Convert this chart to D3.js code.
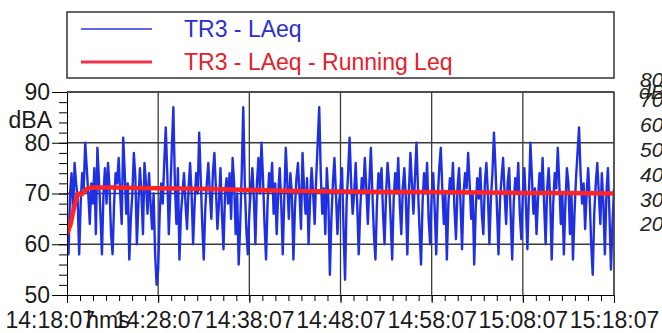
<!DOCTYPE html>
<html>
<head>
<meta charset="utf-8">
<script src="https://cdn.jsdelivr.net/npm/d3@7"></script>
<style>
  body { margin: 0; background: #fff; }
  svg { display: block; }
  text { font-family: "Liberation Sans", Arial, sans-serif; }
</style>
</head>
<body>
<div id="chart"></div>
<script>
// x tick labels, one every 10 minutes
const xTickLabels = ['14:18:07', '14:28:07', '14:38:07', '14:48:07', '14:58:07', '15:08:07', '15:18:07'];
const xTickMinutes = [0, 10, 20, 30, 40, 50, 60];
const yTicks = [50, 60, 70, 80, 90];
const rightTicks = [80, 70, 60, 50, 40, 30, 20];
const legendNames = ['TR3 - LAeq', 'TR3 - LAeq - Running Leq'];

// TR3 - LAeq, one reading every 10 s from 14:18:07
const stepMinutes = 10 / 60;
const laeq = [
  62, 58, 70, 74, 66, 76, 72, 69, 58, 68, 74, 71, 80, 75, 70, 64, 72, 68, 75, 62,
  79, 73, 66, 58, 70, 75, 68, 76, 71, 62, 58, 68, 74, 72, 77, 70, 64, 81, 74, 66,
  72, 57, 65, 70, 78, 73, 60, 68, 75, 70, 62, 76, 72, 66, 74, 68, 63, 70, 58, 52,
  55, 66, 72, 68, 76, 83, 74, 62, 70, 79, 87, 72, 64, 75, 57, 66, 70, 74, 68, 63,
  71, 76, 70, 60, 68, 74, 70, 82, 73, 64, 57, 67, 72, 76, 70, 65, 74, 78, 71, 63,
  68, 75, 66, 59, 70, 73, 68, 74, 65, 77, 72, 62, 70, 56, 64, 74, 87, 72, 63, 58,
  66, 71, 75, 69, 60, 72, 77, 70, 80, 73, 64, 57, 68, 74, 71, 76, 66, 72, 62, 70,
  75, 68, 58, 69, 79, 72, 65, 74, 70, 57, 67, 73, 76, 70, 63, 78, 71, 66, 73, 60,
  69, 75, 70, 64, 73, 80, 87, 74, 66, 71, 62, 75, 69, 54, 65, 72, 77, 70, 62, 68,
  71, 75, 63, 53, 68, 74, 81, 72, 66, 70, 76, 68, 58, 67, 73, 70, 77, 71, 64, 72,
  79, 70, 62, 57, 68, 74, 71, 75, 66, 60, 70, 76, 72, 65, 57, 69, 74, 70, 77, 68,
  62, 71, 75, 69, 58, 70, 78, 72, 66, 73, 80, 71, 63, 56, 68, 74, 70, 76, 65, 60,
  70, 74, 67, 58, 69, 75, 79, 71, 64, 70, 57, 68, 73, 70, 76, 67, 61, 71, 75, 68,
  59, 70, 74, 71, 78, 72, 65, 70, 56, 67, 73, 69, 75, 66, 62, 72, 76, 70, 60, 69,
  74, 82, 75, 67, 58, 69, 73, 77, 70, 64, 72, 75, 66, 57, 68, 73, 70, 76, 66, 61,
  70, 75, 68, 59, 70, 80, 73, 66, 71, 62, 69, 74, 70, 77, 68, 60, 71, 75, 69, 57,
  68, 74, 71, 79, 72, 64, 70, 58, 68, 75, 72, 62, 70, 57, 66, 73, 78, 83, 74, 68,
  72, 63, 70, 75, 69, 60, 54, 66, 72, 76, 70, 64, 74, 68, 58, 70, 75, 66, 55, 64,
  71
];

// TR3 - LAeq - Running Leq
const runningMinutes = [0, 0.4, 0.8, 1.2, 1.6, 2.3, 3, 5, 8, 12, 16, 20, 25, 30, 35, 40, 45, 50, 55, 60];
const runningLeq = [62, 64, 67.5, 70, 69.8, 71.1, 71.2, 71.2, 71.1, 71, 70.9, 70.7, 70.5, 70.4, 70.3, 70.3, 70.2, 70.1, 70.1, 70.0];

const width = 662, height = 333;
const plot = { left: 67, right: 614, top: 92, bottom: 295 };
const fontSize = 23;

const svg = d3.select('#chart').append('svg')
  .attr('width', width)
  .attr('height', height);

const x = d3.scaleLinear().domain([0, 60]).range([plot.left, plot.right]);
const y = d3.scaleLinear().domain([50, 90]).range([plot.bottom, plot.top]);
// right-hand axis (cut off at the edge of the picture)
const yRight = d3.scaleLinear().domain([20, 70]).range([224, 100]);

// legend box
const legend = svg.append('g');
legend.append('rect')
  .attr('x', 67).attr('y', 12)
  .attr('width', 547).attr('height', 66)
  .attr('fill', '#fff')
  .attr('stroke', '#333')
  .attr('stroke-width', 1.5);

const legendColors = ['#2a35d8', '#ee3348'];
const legendTextColors = ['#2b2fd0', '#e5202a'];
legendNames.forEach((name, i) => {
  let ly = 29 + i * 33;
  legend.append('line')
    .attr('x1', 81).attr('x2', 152)
    .attr('y1', ly).attr('y2', ly)
    .attr('stroke', legendColors[i])
    .attr('stroke-width', i ? 3 : 1.6);
  legend.append('text')
    .attr('x', 184).attr('y', ly)
    .attr('dy', '0.35em')
    .attr('font-size', fontSize)
    .attr('fill', legendTextColors[i])
    .text(name);
});

// grid
const grid = svg.append('g').attr('stroke', '#3a3a3a').attr('stroke-width', 1.3);
grid.selectAll('.vgrid')
  .data(xTickMinutes.slice(1))
  .enter().append('line')
  .attr('x1', d => x(d)).attr('x2', d => x(d))
  .attr('y1', plot.top).attr('y2', plot.bottom);
grid.selectAll('.hgrid')
  .data(yTicks.slice(1))
  .enter().append('line')
  .attr('x1', plot.left).attr('x2', plot.right)
  .attr('y1', d => y(d)).attr('y2', d => y(d));

// clip the series to the plot area
svg.append('clipPath').attr('id', 'plotClip')
  .append('rect')
  .attr('x', plot.left).attr('y', plot.top)
  .attr('width', plot.right - plot.left).attr('height', plot.bottom - plot.top);

const series = svg.append('g').attr('clip-path', 'url(#plotClip)');

let laeqLine = d3.line()
  .x((d, i) => x(i * stepMinutes))
  .y(d => y(d));
series.append('path')
  .datum(laeq)
  .attr('d', laeqLine)
  .attr('fill', 'none')
  .attr('stroke', '#1f30e2')
  .attr('stroke-width', 2.4)
  .attr('stroke-linejoin', 'round');

let runLine = d3.line()
  .x((d, i) => x(runningMinutes[i]))
  .y(d => y(d));
series.append('path')
  .datum(runningLeq)
  .attr('d', runLine)
  .attr('fill', 'none')
  .attr('stroke', '#ff2424')
  .attr('stroke-width', 4.5)
  .attr('stroke-linejoin', 'round');

// left axis
let minorY = svg.append('g')
  .attr('transform', `translate(${plot.left},0)`)
  .call(d3.axisLeft(y).tickValues(d3.range(50, 91, 2)).tickSize(8).tickFormat(''));
minorY.select('.domain').remove();

let leftAxis = svg.append('g')
  .attr('transform', `translate(${plot.left},0)`)
  .call(d3.axisLeft(y).tickValues(yTicks).tickSize(15).tickPadding(2).tickSizeOuter(0));
leftAxis.selectAll('text').attr('font-size', fontSize).attr('fill', '#1a1a1a').attr('font-family', null);

svg.append('text')
  .attr('x', 52).attr('y', 120)
  .attr('dy', '0.35em')
  .attr('text-anchor', 'end')
  .attr('font-size', fontSize)
  .attr('fill', '#1a1a1a')
  .text('dBA');

// bottom axis
let minorX = svg.append('g')
  .attr('transform', `translate(0,${plot.bottom})`)
  .call(d3.axisBottom(x).tickValues(d3.range(0, 43).map(i => i * 10 / 7)).tickSize(6).tickFormat(''));
minorX.select('.domain').remove();

let bottomAxis = svg.append('g')
  .attr('transform', `translate(0,${plot.bottom})`)
  .call(d3.axisBottom(x)
    .tickValues(xTickMinutes)
    .tickSize(8)
    .tickPadding(9)
    .tickSizeOuter(0)
    .tickFormat((d, i) => xTickLabels[i]));
bottomAxis.selectAll('text').attr('font-size', fontSize).attr('fill', '#1a1a1a').attr('font-family', null);
// first label is pushed right so it stays inside the picture
bottomAxis.select('.tick text')
  .attr('text-anchor', 'start')
  .attr('x', 5 - plot.left);

svg.append('text')
  .attr('x', 108).attr('y', plot.bottom + 17)
  .attr('dy', '0.71em')
  .attr('text-anchor', 'middle')
  .attr('font-size', fontSize)
  .attr('fill', '#1a1a1a')
  .text('hms');

// top and right border of the plot
svg.append('path')
  .attr('d', `M${plot.left},${plot.top}H${plot.right}V${plot.bottom}`)
  .attr('fill', 'none')
  .attr('stroke', '#444')
  .attr('stroke-width', 1.3);

// right axis labels
const rightAxis = svg.append('g')
  .attr('font-family', '"Liberation Serif", serif')
  .attr('font-style', 'italic')
  .attr('font-size', 21)
  .attr('fill', '#222');
rightAxis.selectAll('text.rt')
  .data(rightTicks)
  .enter().append('text')
  .attr('x', 640)
  .attr('y', d => Math.max(yRight(d), 80))
  .attr('dy', '0.35em')
  .text(d => d);
rightAxis.append('text')
  .attr('x', 639).attr('y', 92)
  .attr('dy', '0.35em')
  .text('dB');
</script>
</body>
</html>
